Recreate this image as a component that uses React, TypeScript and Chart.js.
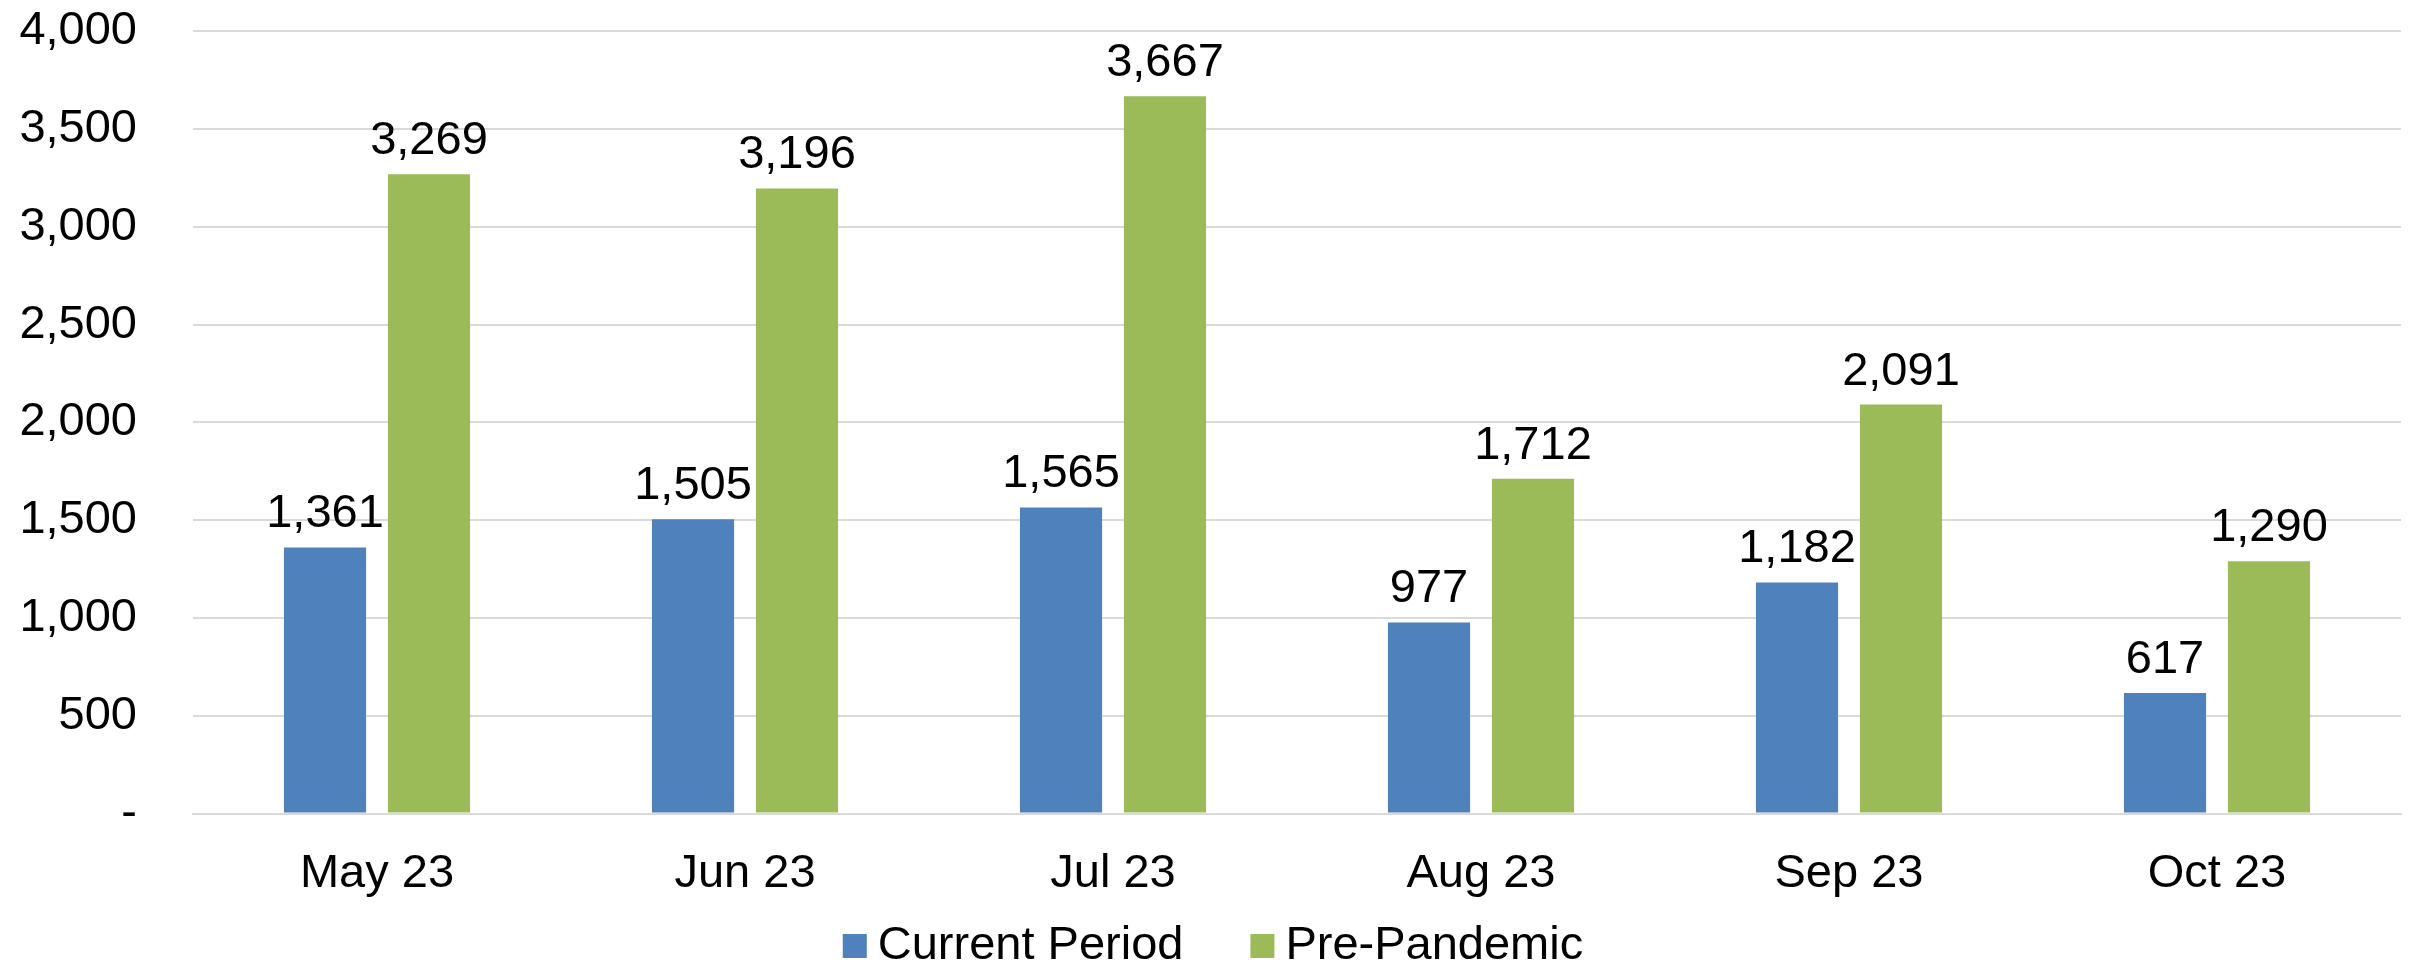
import React, { useEffect, useRef } from "react";
import { Chart, registerables } from "chart.js";

Chart.register(...registerables);

const categories = ["May 23", "Jun 23", "Jul 23", "Aug 23", "Sep 23", "Oct 23"];
const currentPeriod = [1361, 1505, 1565, 977, 1182, 617];
const prePandemic = [3269, 3196, 3667, 1712, 2091, 1290];
const seriesNames = ["Current Period", "Pre-Pandemic"];
const seriesColors = ["#4F81BD", "#9BBB59"];
const yMax = 4000;
const yStep = 500;

const FONT = "'Liberation Sans', Arial, sans-serif";
const FS = 47;
const SHIFT = 53;
const CANVAS_H = 967 + SHIFT;

const valueLabels = {
  id: "valueLabels",
  afterDatasetsDraw(chart: any) {
    const ctx = chart.ctx;
    ctx.save();
    ctx.font = `${FS}px ${FONT}`;
    ctx.fillStyle = "#000";
    ctx.textAlign = "center";
    ctx.textBaseline = "alphabetic";
    chart.data.datasets.forEach((ds: any, i: number) => {
      const meta = chart.getDatasetMeta(i);
      meta.data.forEach((el: any, j: number) => {
        const v = ds.data[j];
        ctx.fillText(v.toLocaleString("en-US"), el.x, el.y - 20);
      });
    });
    ctx.restore();
  },
};

const bottomLegend = {
  id: "bottomLegend",
  afterDraw(chart: any) {
    const ctx = chart.ctx;
    ctx.save();
    ctx.font = `${FS}px ${FONT}`;
    ctx.textBaseline = "middle";
    ctx.textAlign = "left";
    const box = 24;
    const gapText = 11;
    const gapItem = 67;
    const items = chart.data.datasets.map((ds: any) => ({
      text: ds.label,
      color: ds.backgroundColor,
      w: ctx.measureText(ds.label).width,
    }));
    const total = items.reduce((s: number, it: any) => s + box + gapText + it.w, 0) + gapItem * (items.length - 1);
    let x = chart.width / 2 + 7 - total / 2;
    const cy = chart.height - 21;
    items.forEach((it: any) => {
      ctx.fillStyle = it.color;
      ctx.fillRect(x, cy - box / 2, box, box);
      x += box + gapText;
      ctx.fillStyle = "#000";
      ctx.fillText(it.text, x, cy);
      x += it.w + gapItem;
    });
    ctx.restore();
  },
};

export default function App() {
  const ref = useRef<HTMLCanvasElement | null>(null);
  useEffect(() => {
    document.body.style.margin = "0";
    document.body.style.overflow = "hidden";
    const chart = new Chart(ref.current!, {
      type: "bar",
      data: {
        labels: categories,
        datasets: [
          {
            label: seriesNames[0],
            data: currentPeriod,
            backgroundColor: seriesColors[0],
            barPercentage: 0.79,
            categoryPercentage: 0.565,
          },
          {
            label: seriesNames[1],
            data: prePandemic,
            backgroundColor: seriesColors[1],
            barPercentage: 0.79,
            categoryPercentage: 0.565,
          },
        ],
      },
      options: {
        animation: false,
        responsive: false,
        maintainAspectRatio: false,
        layout: { autoPadding: false, padding: { left: 0, right: 11, top: 0, bottom: 41 } },
        plugins: {
          legend: { display: false },
          tooltip: { enabled: false },
        },
        scales: {
          x: {
            grid: { display: false },
            border: { display: true, color: "#d9d9d9", width: 2 },
            ticks: { font: { family: FONT, size: FS }, color: "#000", padding: 24, maxRotation: 0 },
          },
          y: {
            min: 0,
            max: yMax,
            border: { display: false },
            grid: { color: "#d9d9d9", lineWidth: 2, drawTicks: false },
            ticks: {
              stepSize: yStep,
              padding: 56,
              font: { family: FONT, size: FS },
              color: "#000",
              callback: (v: any) => (Number(v) === 0 ? "-" : Number(v).toLocaleString("en-US")),
            },
            afterFit: (s: any) => {
              s.width = 193;
            },
          },
        },
      },
      plugins: [valueLabels, bottomLegend],
    });
    return () => chart.destroy();
  }, []);
  return (
    <div style={{ position: "absolute", left: 0, top: 0, width: 2412, height: 967, overflow: "hidden" }}>
      <canvas
        ref={ref}
        width={2412}
        height={CANVAS_H}
        style={{ position: "absolute", left: 0, top: -SHIFT, width: 2412, height: CANVAS_H }}
      />
    </div>
  );
}
